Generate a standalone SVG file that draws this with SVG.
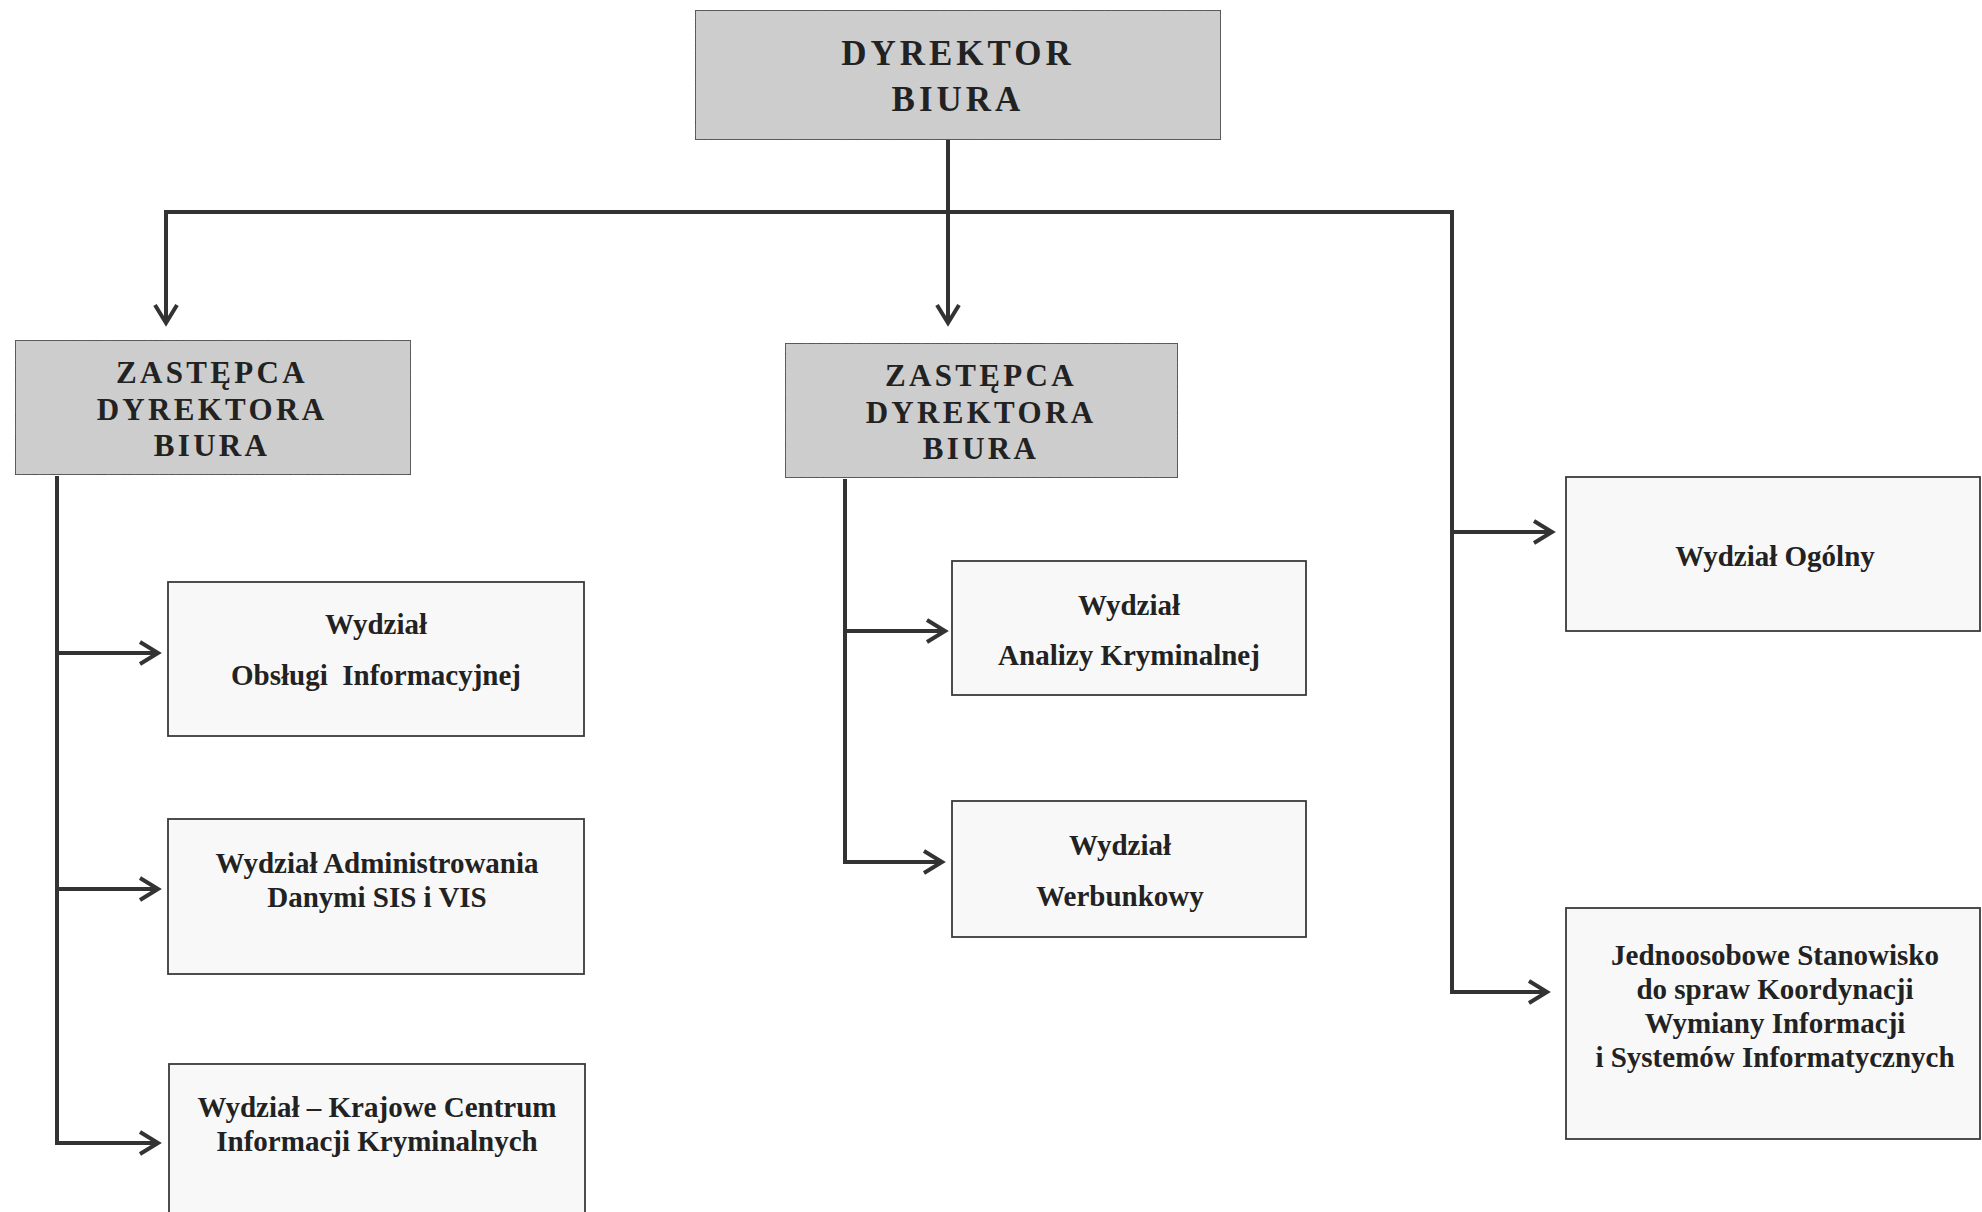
<svg xmlns="http://www.w3.org/2000/svg" width="1982" height="1212" viewBox="0 0 1982 1212">
<style>
  .bg{fill:#ffffff}
  .gray{fill:#cfcfcf;stroke:#3a3a3a;stroke-width:1.8}
  .white{fill:#f8f8f8;stroke:#3a3a3a;stroke-width:1.8}
  .cap{font-family:"Liberation Serif","Times New Roman",serif;font-weight:bold;fill:#222222;text-anchor:middle}
  .t{font-family:"Liberation Serif","Times New Roman",serif;font-weight:bold;font-size:29px;fill:#222222;text-anchor:middle;white-space:pre}
  .ln{fill:none;stroke:#333333;stroke-width:4}
  .ah{fill:none;stroke:#333333;stroke-width:4;stroke-linejoin:miter}
</style>
<defs>
  <filter id="grain" x="0" y="0" width="100%" height="100%">
    <feTurbulence type="fractalNoise" baseFrequency="0.9" numOctaves="2" seed="3" result="n"/>
    <feColorMatrix type="matrix" values="0 0 0 0 0.5  0 0 0 0 0.5  0 0 0 0 0.5  0 0 0 0.18 0" in="n" result="g"/>
    <feComposite in="g" in2="SourceGraphic" operator="atop"/>
  </filter>
</defs>
<rect class="bg" x="0" y="0" width="1982" height="1212"/>

<g id="connectors">
  <polyline class="ln" points="948,140 948,321"/>
  <polyline class="ln" points="164,212 1454,212"/>
  <polyline class="ln" points="166,210 166,321"/>
  <polyline class="ln" points="1452,210 1452,992 1545,992"/>
  <polyline class="ln" points="1452,532 1550,532"/>
  <polyline class="ln" points="57,476 57,1143 156,1143"/>
  <polyline class="ln" points="57,653 156,653"/>
  <polyline class="ln" points="57,889 156,889"/>
  <polyline class="ln" points="845,479 845,862 940,862"/>
  <polyline class="ln" points="845,631 943,631"/>
  <polyline class="ah" points="155,305 166,323 177,305"/>
  <polyline class="ah" points="937,305 948,323 959,305"/>
  <polyline class="ah" points="140,642 158,653 140,664"/>
  <polyline class="ah" points="140,878 158,889 140,900"/>
  <polyline class="ah" points="140,1132 158,1143 140,1154"/>
  <polyline class="ah" points="927,620 945,631 927,642"/>
  <polyline class="ah" points="924,851 942,862 924,873"/>
  <polyline class="ah" points="1534,521 1552,532 1534,543"/>
  <polyline class="ah" points="1529,981 1547,992 1529,1003"/>
</g>

<g id="dyrektor">
  <rect class="gray" filter="url(#grain)" x="695" y="10" width="526" height="130"/>
  <text class="cap" x="958" y="65" font-size="35" letter-spacing="4">DYREKTOR</text>
  <text class="cap" x="958" y="111" font-size="35" letter-spacing="4">BIURA</text>
</g>

<g id="zastepca-lewy">
  <rect class="gray" filter="url(#grain)" x="15" y="340" width="396" height="135"/>
  <text class="cap" x="212" y="383" font-size="31" letter-spacing="3.3">ZASTĘPCA</text>
  <text class="cap" x="212" y="420" font-size="31" letter-spacing="3.3">DYREKTORA</text>
  <text class="cap" x="212" y="456" font-size="31" letter-spacing="3.3">BIURA</text>
</g>

<g id="zastepca-srodek">
  <rect class="gray" filter="url(#grain)" x="785" y="343" width="393" height="135"/>
  <text class="cap" x="981" y="386" font-size="31" letter-spacing="3.3">ZASTĘPCA</text>
  <text class="cap" x="981" y="423" font-size="31" letter-spacing="3.3">DYREKTORA</text>
  <text class="cap" x="981" y="459" font-size="31" letter-spacing="3.3">BIURA</text>
</g>

<g id="wydzial-obslugi">
  <rect class="white" x="168" y="582" width="416" height="154"/>
  <text class="t" x="376" y="634">Wydział</text>
  <text class="t" x="376" y="685">Obsługi  Informacyjnej</text>
</g>

<g id="wydzial-administrowania">
  <rect class="white" x="168" y="819" width="416" height="155"/>
  <text class="t" x="377" y="873">Wydział Administrowania</text>
  <text class="t" x="377" y="907">Danymi SIS i VIS</text>
</g>

<g id="wydzial-kcik">
  <rect class="white" x="169" y="1064" width="416" height="160"/>
  <text class="t" x="377" y="1117">Wydział – Krajowe Centrum</text>
  <text class="t" x="377" y="1151">Informacji Kryminalnych</text>
</g>

<g id="wydzial-analizy">
  <rect class="white" x="952" y="561" width="354" height="134"/>
  <text class="t" x="1129" y="615">Wydział</text>
  <text class="t" x="1129" y="665">Analizy Kryminalnej</text>
</g>

<g id="wydzial-werbunkowy">
  <rect class="white" x="952" y="801" width="354" height="136"/>
  <text class="t" x="1120" y="855">Wydział</text>
  <text class="t" x="1120" y="906">Werbunkowy</text>
</g>

<g id="wydzial-ogolny">
  <rect class="white" x="1566" y="477" width="414" height="154"/>
  <text class="t" x="1775" y="566">Wydział Ogólny</text>
</g>

<g id="stanowisko">
  <rect class="white" x="1566" y="908" width="414" height="231"/>
  <text class="t" x="1775" y="965">Jednoosobowe Stanowisko</text>
  <text class="t" x="1775" y="999">do spraw Koordynacji</text>
  <text class="t" x="1775" y="1033">Wymiany Informacji</text>
  <text class="t" x="1775" y="1067">i Systemów Informatycznych</text>
</g>
</svg>
